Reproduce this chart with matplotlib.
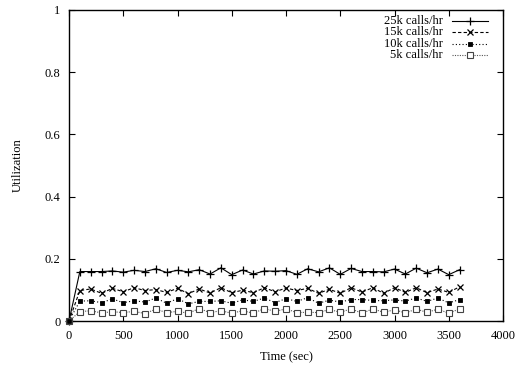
import matplotlib
matplotlib.use("Agg")
import matplotlib.pyplot as plt
import numpy as np

plt.rcParams['font.family'] = ['Liberation Serif', 'DejaVu Serif']

times = [0] + list(range(100, 3700, 100))

util_25k = [0.0,
    0.159, 0.159, 0.159, 0.161, 0.157, 0.163, 0.159, 0.168, 0.156, 0.163,
    0.158, 0.165, 0.151, 0.171, 0.149, 0.164, 0.151, 0.161, 0.160, 0.162,
    0.150, 0.168, 0.158, 0.171, 0.150, 0.169, 0.159, 0.159, 0.158, 0.167,
    0.151, 0.170, 0.155, 0.167, 0.149, 0.165]
util_15k = [0.0,
    0.098, 0.103, 0.089, 0.105, 0.094, 0.107, 0.098, 0.101, 0.092, 0.105,
    0.088, 0.103, 0.090, 0.107, 0.091, 0.099, 0.091, 0.107, 0.094, 0.106,
    0.098, 0.105, 0.089, 0.102, 0.089, 0.107, 0.093, 0.107, 0.089, 0.107,
    0.092, 0.107, 0.091, 0.103, 0.092, 0.110]
util_10k = [0.0,
    0.064, 0.065, 0.059, 0.071, 0.059, 0.065, 0.061, 0.074, 0.057, 0.072,
    0.055, 0.063, 0.063, 0.065, 0.057, 0.068, 0.063, 0.074, 0.059, 0.072,
    0.063, 0.075, 0.057, 0.067, 0.061, 0.069, 0.069, 0.066, 0.065, 0.068,
    0.064, 0.074, 0.063, 0.074, 0.058, 0.069]
util_5k = [0.0,
    0.030, 0.033, 0.026, 0.030, 0.027, 0.031, 0.024, 0.038, 0.027, 0.031,
    0.025, 0.040, 0.027, 0.033, 0.025, 0.033, 0.025, 0.040, 0.031, 0.039,
    0.027, 0.028, 0.027, 0.037, 0.028, 0.039, 0.025, 0.039, 0.028, 0.036,
    0.026, 0.038, 0.028, 0.038, 0.025, 0.039]

labels = ["25k calls/hr", "15k calls/hr", "10k calls/hr", "5k calls/hr"]
x_ticks = list(range(0, 4001, 500))
y_ticks = [0, 0.2, 0.4, 0.6, 0.8, 1]
y_ticklabels = ["0", "0.2", "0.4", "0.6", "0.8", "1"]

styles = [
    dict(color='black', linestyle='-', marker='+', markersize=5.5, markeredgewidth=0.9),
    dict(color='black', linestyle=(0, (3, 2)), marker='x', markersize=4.5, markeredgewidth=0.9),
    dict(color='black', linestyle=(0, (1, 2)), marker='s', markersize=3.4,
         markerfacecolor='black', markeredgewidth=0.6),
    dict(color='#555555', linestyle=(0, (1, 1.2)), marker='s', markersize=4.2,
         markerfacecolor='white', markeredgecolor='#444444', markeredgewidth=0.8),
]
series = [util_25k, util_15k, util_10k, util_5k]
zorders = [3, 3, 5, 4]

fig = plt.figure(figsize=(5.17, 3.66), dpi=100)
ax = fig.add_axes([69/517, 1-321/366, 434/517, 311/366])

for vals, st, z in zip(series, styles, zorders):
    ax.plot(times, vals, linewidth=0.8, clip_on=False, zorder=z, **st)

ax.set_xlim(0, 4000)
ax.set_ylim(0, 1)
ax.set_xticks(x_ticks)
ax.set_yticks(y_ticks)
ax.set_yticklabels(y_ticklabels)
ax.tick_params(direction='in', length=4, width=0.8, top=True, right=True,
               labelsize=9, colors='black')
ax.tick_params(axis='x', pad=6.5)
ax.tick_params(axis='y', pad=6)
for sp in ax.spines.values():
    sp.set_linewidth(1.0)

ax.set_xlabel("Time (sec)", fontsize=9, labelpad=7)
ax.set_ylabel("Utilization", fontsize=9, labelpad=15)

# gnuplot-style key: right-aligned text followed by line sample
key_y = [0.966, 0.929, 0.892, 0.855]
for lab, st, yy in zip(labels, styles, key_y):
    ax.text(0.862, yy, lab, ha='right', va='center', fontsize=9,
            transform=ax.transAxes)
    ls = {k: v for k, v in st.items() if not k.startswith('marker')}
    ax.plot([0.882, 0.965], [yy, yy], transform=ax.transAxes, linewidth=0.8,
            clip_on=False, **ls)
    mk = {k: v for k, v in st.items() if k != 'linestyle'}
    ax.plot([0.924], [yy], transform=ax.transAxes, linestyle='none',
            clip_on=False, **mk)

fig.savefig("out.png", dpi=100)
